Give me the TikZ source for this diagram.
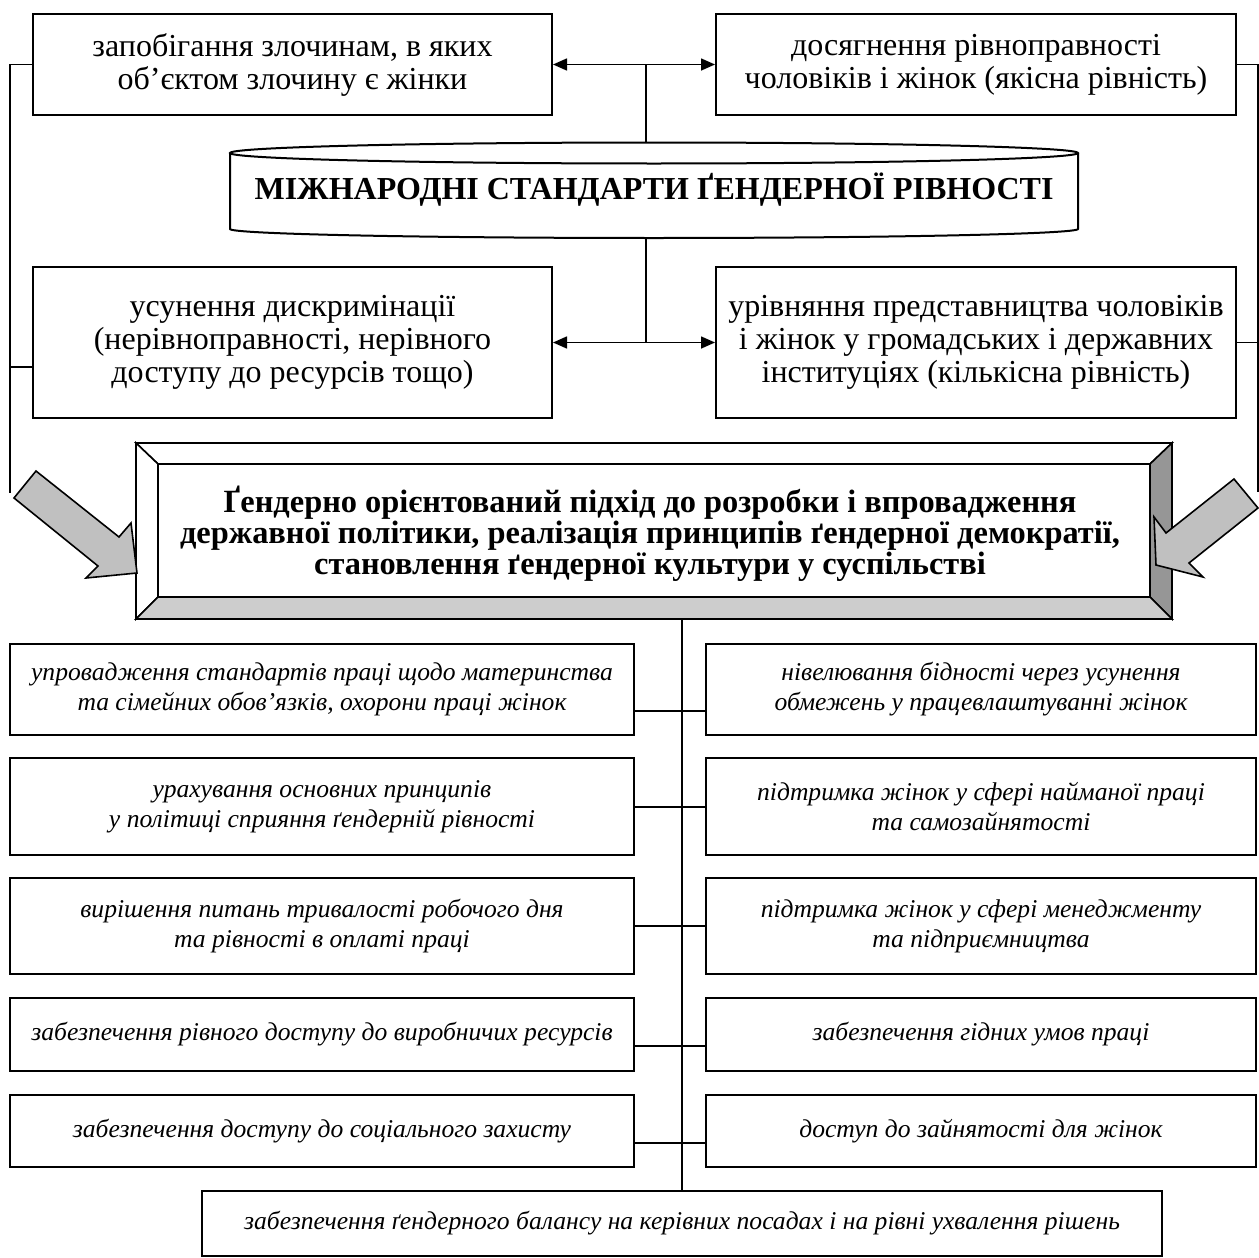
\documentclass[tikz,border=0pt]{standalone}
\usepackage{fontspec}
\setmainfont{Liberation Serif}
\usetikzlibrary{arrows.meta,calc}
\definecolor{arrowgray}{HTML}{C0C0C0}
\definecolor{darkface}{HTML}{969696}
\definecolor{lightface}{HTML}{CDCDCD}
\begin{document}
\begin{tikzpicture}[x=0.5pt,y=-0.5pt,
  topbox/.style={draw, line width=1pt, fill=white, align=center, inner sep=0pt, font=\fontsize{16}{16.5}\selectfont},
  rowbox/.style={draw, line width=1pt, fill=white, align=center, inner sep=0pt, font=\fontsize{12.8}{15}\selectfont\itshape},
  conn/.style={line width=0.8pt},
  dbl/.style={conn, {Triangle[length=7pt,width=6pt]}-{Triangle[length=7pt,width=6pt]}},
  blockarrow/.style={draw, line width=0.8pt, fill=arrowgray, line join=miter},
  face/.style={draw, line width=0.8pt, line join=miter}]
\useasboundingbox (0,0) rectangle (1259,1258);

% top boxes
\node[topbox, minimum width=259.5pt, minimum height=50.5pt] (tl) at (292.5,64.5) {запобігання злочинам, в яких\\об’єктом злочину є жінки};
\node[topbox, minimum width=260pt, minimum height=50.5pt] (tr) at (976,64.5) {досягнення рівноправності\\чоловіків і жінок (якісна рівність)};
\node[topbox, minimum width=259.5pt, minimum height=75.5pt] (ml) at (292.5,342.5) {\raisebox{2pt}{\begin{tabular}{@{}c@{}}усунення дискримінації\\(нерівноправності, нерівного\\доступу до ресурсів тощо)\end{tabular}}};
\node[topbox, minimum width=260pt, minimum height=75.5pt] (mr) at (976,342.5) {урівняння представництва чоловіків\\і жінок у громадських і державних\\інституціях (кількісна рівність)};

% cylinder
\draw[line width=1pt, fill=white] (230,153) -- (230,229) arc[start angle=180,end angle=360,x radius=212pt,y radius=4.5pt] -- (1078,153);
\draw[line width=1pt, fill=white] (654,153) ellipse[x radius=212pt, y radius=5.25pt];
\node[font=\fontsize{16}{18}\selectfont\bfseries] (std) at (654,190) {МІЖНАРОДНІ СТАНДАРТИ ҐЕНДЕРНОЇ РІВНОСТІ};
\coordinate (cyltop) at (646,142.5);
\coordinate (cylbot) at (646,237.5);

\draw[dbl] (tl.east) -- (tr.west);
\draw[conn] (cyltop) -- (cyltop |- tl.east);
\draw[dbl] (ml.east) -- (mr.west);
\draw[conn] (cylbot) -- (cylbot |- ml.east);

% side lines
\coordinate (lend) at (10,493);
\coordinate (lbr) at (10,367);
\draw[conn] (tl.west) -| (lend);
\draw[conn] (lbr) -- (lbr -| ml.west);
\coordinate (rend) at (1258,492);
\draw[conn] (tr.east) -| (rend);
\draw[conn] (mr.east) -- (mr.east -| rend);

% bevel box
\coordinate (o1) at (136,443); \coordinate (o2) at (1172,443);
\coordinate (o3) at (1172,619); \coordinate (o4) at (136,619);
\coordinate (i1) at (158,464); \coordinate (i2) at (1150,464);
\coordinate (i3) at (1150,597); \coordinate (i4) at (158,597);
\fill[white] (o1) rectangle (o3);
\draw[face, fill=white] (o1) -- (o2) -- (i2) -- (i1) -- cycle;
\draw[face, fill=white] (o1) -- (i1) -- (i4) -- (o4) -- cycle;
\draw[face, fill=darkface] (o2) -- (o3) -- (i3) -- (i2) -- cycle;
\draw[face, fill=lightface] (o4) -- (i4) -- (i3) -- (o3) -- cycle;
\draw[line width=1pt] (i1) rectangle (i3);
\draw[line width=1pt] (o1) rectangle (o3);
\node[align=center, font=\fontsize{16.2}{15.5}\selectfont\bfseries] (main) at (650,534) {Ґендерно орієнтований підхід до розробки і впровадження\\державної політики, реалізація принципів ґендерної демократії,\\становлення ґендерної культури у суспільстві};

% block arrows
\draw[blockarrow] (36,471) -- (119,537) -- (131,523) -- (137,573) -- (86,578) -- (98,566) -- (14,498) -- cycle;
\draw[blockarrow] (1234,479) -- (1166,533) -- (1154,517) -- (1156,565) -- (1203,577) -- (1189,563) -- (1258,508) -- cycle;

% lower boxes
\node[rowbox, minimum width=312pt, minimum height=45.5pt] (L1) at (322,689.5) {упровадження стандартів праці щодо материнства\\та сімейних обов’язків, охорони праці жінок};
\node[rowbox, minimum width=275pt, minimum height=45.5pt] (R1) at (981,689.5) {нівелювання бідності через усунення\\обмежень у працевлаштуванні жінок};
\node[rowbox, minimum width=312pt, minimum height=48.5pt] (L2) at (322,806.5) {урахування основних принципів\\у політиці сприяння ґендерній рівності};
\node[rowbox, minimum width=275pt, minimum height=48.5pt] (R2) at (981,806.5) {підтримка жінок у сфері найманої праці\\та самозайнятості};
\node[rowbox, minimum width=312pt, minimum height=48pt] (L3) at (322,926) {вирішення питань тривалості робочого дня\\та рівності в оплаті праці};
\node[rowbox, minimum width=275pt, minimum height=48pt] (R3) at (981,926) {підтримка жінок у сфері менеджменту\\та підприємництва};
\node[rowbox, minimum width=312pt, minimum height=36.5pt] (L4) at (322,1034.5) {\raisebox{3pt}{забезпечення рівного доступу до виробничих ресурсів}};
\node[rowbox, minimum width=275pt, minimum height=36.5pt] (R4) at (981,1034.5) {\raisebox{3pt}{забезпечення гідних умов праці}};
\node[rowbox, minimum width=312pt, minimum height=36pt] (L5) at (322,1131) {\raisebox{3pt}{забезпечення доступу до соціального захисту}};
\node[rowbox, minimum width=275pt, minimum height=36pt] (R5) at (981,1131) {\raisebox{3pt}{доступ до зайнятості для жінок}};
\node[rowbox, minimum width=480pt, minimum height=32.5pt] (B) at (682,1223.5) {\raisebox{2pt}{забезпечення ґендерного балансу на керівних посадах і на рівні ухвалення рішень}};

\coordinate (trunk) at (682,619);
\draw[conn] (trunk) -- (B.north);
\foreach \i/\yy in {1/711,2/807,3/926,4/1046,5/1143}{
  \coordinate (k\i) at (682,\yy);
  \draw[conn] (k\i -| L\i.east) -- (k\i -| R\i.west);
}
\end{tikzpicture}
\end{document}
